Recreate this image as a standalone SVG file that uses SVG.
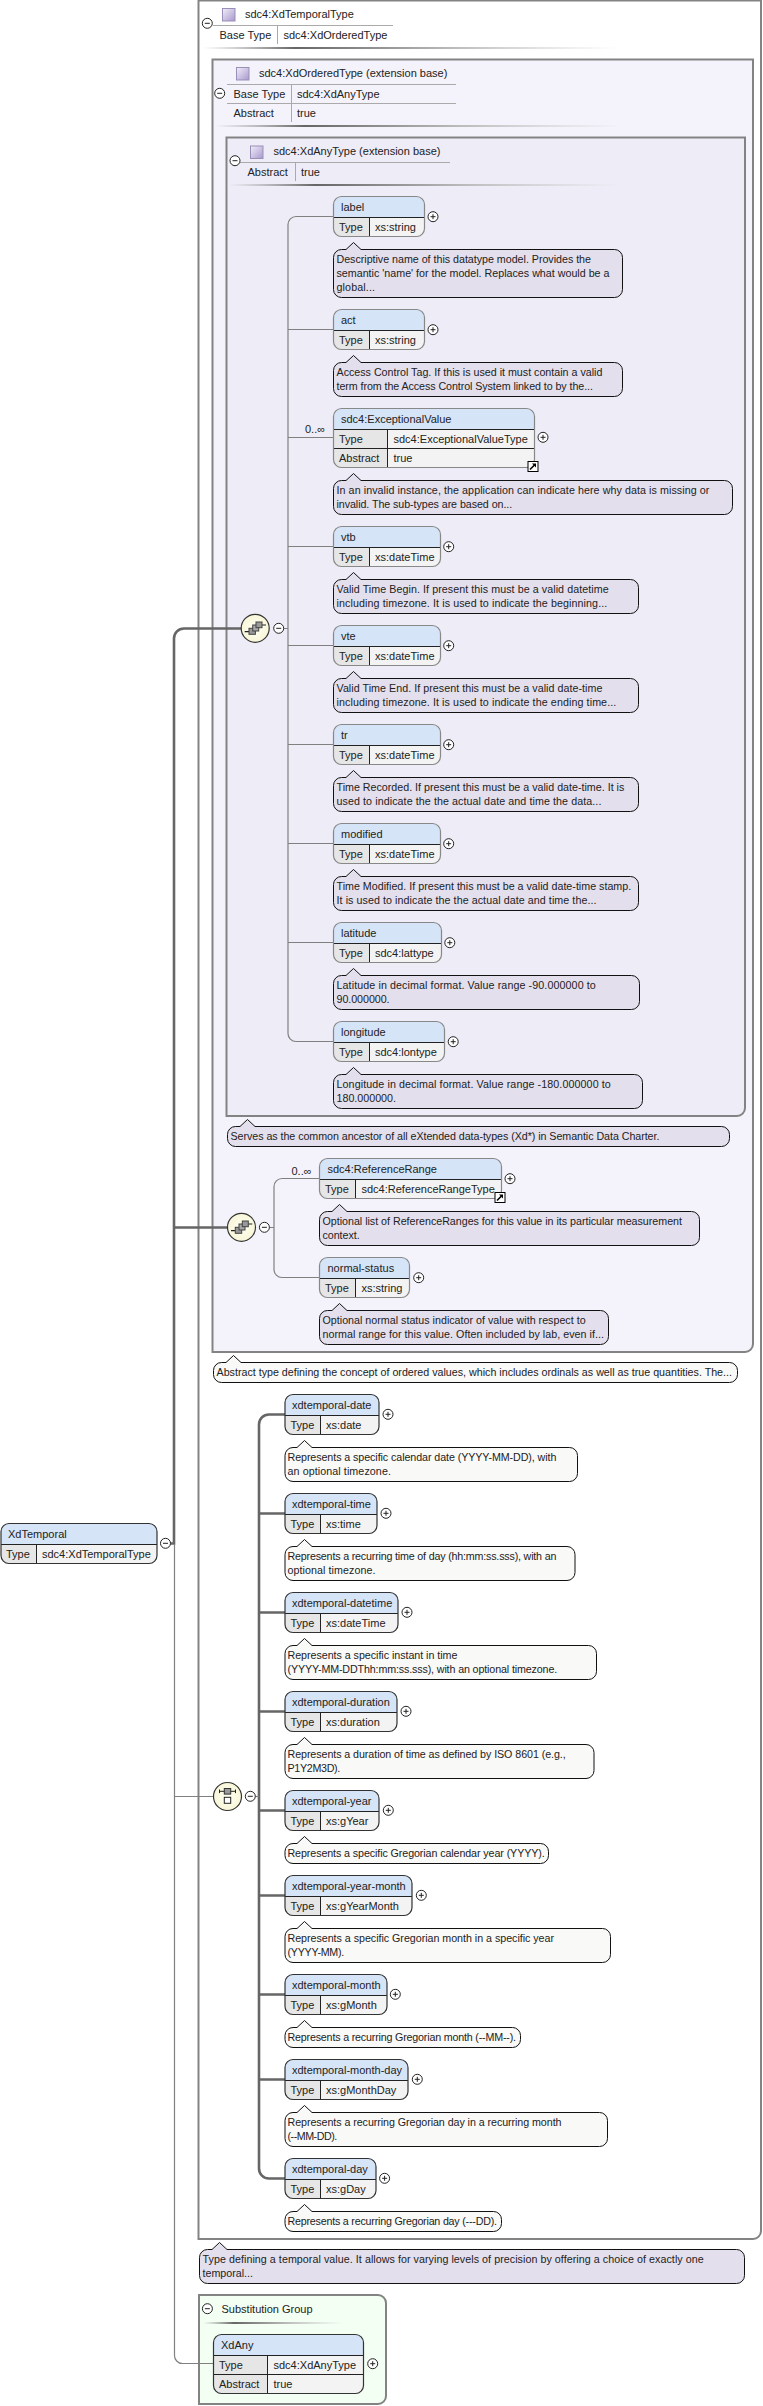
<svg xmlns="http://www.w3.org/2000/svg" width="763" height="2406" viewBox="0 0 763 2406">
<style>
text{font-family:"Liberation Sans",Arial,sans-serif;font-size:11px;fill:#222}
.d{font-size:10.7px;fill:#222}
.fr{stroke:#838383;stroke-width:2}
.c{fill:none;stroke:#808080;stroke-width:1.2}
.ct{fill:none;stroke:#666;stroke-width:2.6}
.bg{fill:#f3f3f3}.hd{fill:#d6e4f7}.ty{fill:#e6e6e6}
.ln{fill:none;stroke:#222;stroke-width:1}
.ot{fill:none;stroke:#888;stroke-width:1.2}
.otb{fill:none;stroke:#333;stroke-width:1.2}
.dl{fill:#e4dfed;stroke:#111;stroke-width:1}
.dw{fill:#f9f9f8;stroke:#111;stroke-width:1}
.tl{fill:none;stroke:#aaa;stroke-width:1}
</style>
<defs>
<linearGradient id="sh"><stop offset="0" stop-color="#888" stop-opacity="0"/><stop offset=".22" stop-color="#666"/><stop offset=".6" stop-color="#bbb"/><stop offset="1" stop-color="#ccc" stop-opacity="0"/></linearGradient>
<linearGradient id="ic" x1="0" y1="0" x2="1" y2="1"><stop offset="0" stop-color="#f2eefa"/><stop offset="1" stop-color="#a898cc"/></linearGradient>
<radialGradient id="cg"><stop offset="0" stop-color="#fffff2"/><stop offset="1" stop-color="#f8f6d8"/></radialGradient>
<g id="plus"><circle r="5" fill="#fff" stroke="#222"/><path d="M-2.5 0H2.5M0-2.5V2.5" stroke="#222"/></g>
<g id="minus"><circle r="5" fill="#fff" stroke="#222"/><path d="M-2.5 0H2.5" stroke="#222"/></g>
<g id="sq"><rect x="-6" y="-6" width="12.5" height="12.5" fill="url(#ic)" stroke="#9a8fb8"/></g>
<g id="seq"><circle r="14" fill="url(#cg)" stroke="#333" stroke-width="1.2"/><path d="M-10.5 3.4H-6M6.8-3.3H10.8" stroke="#222" stroke-width="1.2"/><rect x="-6.2" y="0" width="6.4" height="6" fill="#999" stroke="#444"/><rect x="-2.5" y="-3.3" width="6" height="6" fill="#a8a8a8" stroke="#444"/><rect x=".8" y="-6.3" width="6" height="5.7" fill="#999" stroke="#444"/></g>
<g id="cho"><circle r="14" fill="url(#cg)" stroke="#333" stroke-width="1.2"/><path d="M-8-5.2H8M-8-7V-3.4M8-7V-3.4" stroke="#222"/><rect x="-3.2" y="-8" width="6.4" height="5.6" fill="#999" stroke="#333"/><rect x="-3.2" y=".8" width="6.4" height="6" fill="#fff" stroke="#222"/></g>
<g id="lk"><rect x=".5" y=".5" width="10" height="10" fill="#fff" stroke="#000"/><path d="M2.5 8.5L7 4" stroke="#000" stroke-width="1.6"/><path d="M4.5 2.5H8.5V6.5Z" fill="#000"/></g>
</defs>

<g id="frames">
<path class="fr" fill="#fff" d="M198.5 .5H761V2231a8 8 0 0 1-8 8H198.5Z"/>
<g id="frame-ordered"><path class="fr" fill="#f4f2fa" d="M212.5 59.5H753V1344a8 8 0 0 1-8 8H212.5Z"/></g>
<g id="frame-any"><path class="fr" fill="#eeecf6" d="M226.5 137.5H745V1108a8 8 0 0 1-8 8H226.5Z"/></g>
<path class="fr" fill="#f3fff3" d="M199 2295H378a8 8 0 0 1 8 8V2396a8 8 0 0 1-8 8H199Z"/>
</g>

<g id="frame-titles">
<use href="#sq" x="228.5" y="14.5"/><text x="245" y="18">sdc4:XdTemporalType</text>
<path class="tl" d="M213 25.5H393M277.5 26V44"/>
<use href="#minus" x="207.3" y="23.3"/>
<text x="219.5" y="39">Base Type</text><text x="283.5" y="39">sdc4:XdOrderedType</text>
<rect x="203" y="47" width="417" height="2" fill="url(#sh)"/>

<use href="#sq" x="242.5" y="73.5"/><text x="259" y="77">sdc4:XdOrderedType (extension base)</text>
<path class="tl" d="M227 84.5H456M227 103.5H456M291.5 85V122"/>
<use href="#minus" x="219.7" y="93.3"/>
<text x="233.5" y="98">Base Type</text><text x="297" y="98">sdc4:XdAnyType</text>
<text x="233.5" y="117">Abstract</text><text x="297" y="117">true</text>
<rect x="215" y="125" width="407" height="2" fill="url(#sh)"/>

<use href="#sq" x="256.5" y="152"/><text x="273.5" y="155">sdc4:XdAnyType (extension base)</text>
<path class="tl" d="M240 162.5H450M295.5 163V181"/>
<use href="#minus" x="235" y="160.7"/>
<text x="247.5" y="176">Abstract</text><text x="301" y="176">true</text>
<rect x="229" y="184" width="391" height="2" fill="url(#sh)"/>

<text x="221.5" y="2313">Substitution Group</text>
<use href="#minus" x="207.4" y="2308.7"/>
<rect x="203" y="2322" width="140" height="2" fill="url(#sh)"/>
</g>

<g id="connectors">
<path class="c" d="M333.5 216.5H296a8 8 0 0 0-8 8V1033.5a8 8 0 0 0 8 8H333.5"/>
<path class="c" d="M288 329.5H333.5M288 437.5H333.5M288 546.5H333.5M288 645.5H333.5M288 744.5H333.5M288 843.5H333.5M288 942.5H333.5M283.7 628.5H288"/>
<path class="c" d="M319.5 1178.5H282a8 8 0 0 0-8 8V1269.5a8 8 0 0 0 8 8H319.5M269.4 1227.5H274"/>
<path class="ct" d="M241 628.5H184a10 10 0 0 0-10 10V1543.5H170.5M174 1227.5H227"/>
<path class="c" d="M174.5 1544V2355a8 8 0 0 0 8 8.5H213.5M174.5 1796.5H213.5"/>
<path class="ct" d="M285 1414.5H269a10 10 0 0 0-10 10V2168.5a10 10 0 0 0 10 10H285"/>
<path class="ct" stroke-width="2" d="M259 1513.5H285M259 1612.5H285M259 1711.5H285M259 1810.5H285M259 1895.5H285M259 1994.5H285M259 2079.5H285"/>
<path class="c" d="M255.3 1796.5H259"/>
</g>

<g id="compositors">
<use href="#seq" x="255.2" y="628.3"/><use href="#minus" x="278.7" y="628.3"/>
<use href="#seq" x="241.5" y="1227.3"/><use href="#minus" x="264.4" y="1227.3"/>
<use href="#cho" x="227.5" y="1796.5"/><use href="#minus" x="250.3" y="1796.3"/>
</g>

<g id="n-XdTemporal"><rect class="bg" x="1" y="1523.5" width="156" height="40" rx="8"/><path class="hd" d="M1 1544.5V1531.5a8 8 0 0 1 8-8H149a8 8 0 0 1 8 8V1544.5Z"/><path class="ty" d="M1 1544.5H36.5V1563.5H9a8 8 0 0 1-8-8Z"/><path class="ln" d="M1 1544.5H157M36.5 1544.5V1563.5"/><rect class="otb" x="1" y="1523.5" width="156" height="40" rx="8"/>
<text x="8" y="1538">XdTemporal</text><text x="6" y="1558">Type</text><text x="42" y="1558">sdc4:XdTemporalType</text><use href="#minus" x="165.5" y="1543.3"/></g>

<g id="n-label"><rect class="bg" x="333.5" y="196.5" width="91" height="40" rx="8"/><path class="hd" d="M333.5 217.5V204.5a8 8 0 0 1 8-8H416.5a8 8 0 0 1 8 8V217.5Z"/><path class="ty" d="M333.5 217.5H369.5V236.5H341.5a8 8 0 0 1-8-8Z"/><path class="ln" d="M333.5 217.5H424.5M369.5 217.5V236.5"/><rect class="ot" x="333.5" y="196.5" width="91" height="40" rx="8"/>
<text x="341" y="211">label</text><text x="339" y="231">Type</text><text x="375" y="231">xs:string</text><use href="#plus" x="433" y="216.7"/>
<path class="dl" d="M341.5 249.5H346L353.5 242.5L361 249.5H614.5a8 8 0 0 1 8 8V289.5a8 8 0 0 1-8 8H341.5a8 8 0 0 1-8-8V257.5a8 8 0 0 1 8-8Z"/>
<text class="d" x="336.5" y="263" textLength="254.5">Descriptive name of this datatype model. Provides the</text><text class="d" x="336.5" y="277" textLength="273">semantic 'name' for the model. Replaces what would be a</text><text class="d" x="336.5" y="291" textLength="38.5">global...</text></g>

<g id="n-act"><rect class="bg" x="333.5" y="309.5" width="91" height="40" rx="8"/><path class="hd" d="M333.5 330.5V317.5a8 8 0 0 1 8-8H416.5a8 8 0 0 1 8 8V330.5Z"/><path class="ty" d="M333.5 330.5H369.5V349.5H341.5a8 8 0 0 1-8-8Z"/><path class="ln" d="M333.5 330.5H424.5M369.5 330.5V349.5"/><rect class="ot" x="333.5" y="309.5" width="91" height="40" rx="8"/>
<text x="341" y="324">act</text><text x="339" y="344">Type</text><text x="375" y="344">xs:string</text><use href="#plus" x="433" y="329.7"/>
<path class="dl" d="M341.5 362.5H346L353.5 355.5L361 362.5H614.5a8 8 0 0 1 8 8V388.5a8 8 0 0 1-8 8H341.5a8 8 0 0 1-8-8V370.5a8 8 0 0 1 8-8Z"/>
<text class="d" x="336.5" y="376" textLength="265.9">Access Control Tag. If this is used it must contain a valid</text><text class="d" x="336.5" y="390" textLength="256.5">term from the Access Control System linked to by the...</text></g>

<g id="n-ExceptionalValue"><text x="305" y="433">0..∞</text><rect class="bg" x="333.5" y="408.5" width="201" height="59" rx="8"/><path class="hd" d="M333.5 429.5V416.5a8 8 0 0 1 8-8H526.5a8 8 0 0 1 8 8V429.5Z"/><path class="ty" d="M333.5 429.5H387.5V467.5H341.5a8 8 0 0 1-8-8Z"/><path class="ln" d="M333.5 429.5H534.5M333.5 448.5H534.5M387.5 429.5V467.5"/><rect class="ot" x="333.5" y="408.5" width="201" height="59" rx="8"/>
<text x="341" y="423">sdc4:ExceptionalValue</text><text x="339" y="443">Type</text><text x="393.5" y="443">sdc4:ExceptionalValueType</text><text x="339" y="462">Abstract</text><text x="393.5" y="462">true</text><use href="#plus" x="543" y="437.3"/><use href="#lk" x="527.5" y="461"/>
<path class="dl" d="M341.5 480.5H346L353.5 473.5L361 480.5H724.5a8 8 0 0 1 8 8V506.5a8 8 0 0 1-8 8H341.5a8 8 0 0 1-8-8V488.5a8 8 0 0 1 8-8Z"/>
<text class="d" x="336.5" y="494" textLength="372.8">In an invalid instance, the application can indicate here why data is missing or</text><text class="d" x="336.5" y="508" textLength="175.7">invalid. The sub-types are based on...</text></g>

<g id="n-vtb"><rect class="bg" x="333.5" y="526.5" width="107" height="40" rx="8"/><path class="hd" d="M333.5 547.5V534.5a8 8 0 0 1 8-8H432.5a8 8 0 0 1 8 8V547.5Z"/><path class="ty" d="M333.5 547.5H369.5V566.5H341.5a8 8 0 0 1-8-8Z"/><path class="ln" d="M333.5 547.5H440.5M369.5 547.5V566.5"/><rect class="ot" x="333.5" y="526.5" width="107" height="40" rx="8"/>
<text x="341" y="541">vtb</text><text x="339" y="561">Type</text><text x="375" y="561">xs:dateTime</text><use href="#plus" x="448.7" y="546.7"/>
<path class="dl" d="M341.5 579.5H346L353.5 572.5L361 579.5H630.5a8 8 0 0 1 8 8V605.5a8 8 0 0 1-8 8H341.5a8 8 0 0 1-8-8V587.5a8 8 0 0 1 8-8Z"/>
<text class="d" x="336.5" y="593" textLength="272.1">Valid Time Begin. If present this must be a valid datetime</text><text class="d" x="336.5" y="607" textLength="270.8">including timezone. It is used to indicate the beginning...</text></g>

<g id="n-vte"><rect class="bg" x="333.5" y="625.5" width="107" height="40" rx="8"/><path class="hd" d="M333.5 646.5V633.5a8 8 0 0 1 8-8H432.5a8 8 0 0 1 8 8V646.5Z"/><path class="ty" d="M333.5 646.5H369.5V665.5H341.5a8 8 0 0 1-8-8Z"/><path class="ln" d="M333.5 646.5H440.5M369.5 646.5V665.5"/><rect class="ot" x="333.5" y="625.5" width="107" height="40" rx="8"/>
<text x="341" y="640">vte</text><text x="339" y="660">Type</text><text x="375" y="660">xs:dateTime</text><use href="#plus" x="448.7" y="645.7"/>
<path class="dl" d="M341.5 678.5H346L353.5 671.5L361 678.5H630.5a8 8 0 0 1 8 8V704.5a8 8 0 0 1-8 8H341.5a8 8 0 0 1-8-8V686.5a8 8 0 0 1 8-8Z"/>
<text class="d" x="336.5" y="692" textLength="265.9">Valid Time End. If present this must be a valid date-time</text><text class="d" x="336.5" y="706" textLength="279.8">including timezone. It is used to indicate the ending time...</text></g>

<g id="n-tr"><rect class="bg" x="333.5" y="724.5" width="107" height="40" rx="8"/><path class="hd" d="M333.5 745.5V732.5a8 8 0 0 1 8-8H432.5a8 8 0 0 1 8 8V745.5Z"/><path class="ty" d="M333.5 745.5H369.5V764.5H341.5a8 8 0 0 1-8-8Z"/><path class="ln" d="M333.5 745.5H440.5M369.5 745.5V764.5"/><rect class="ot" x="333.5" y="724.5" width="107" height="40" rx="8"/>
<text x="341" y="739">tr</text><text x="339" y="759">Type</text><text x="375" y="759">xs:dateTime</text><use href="#plus" x="448.7" y="744.7"/>
<path class="dl" d="M341.5 777.5H346L353.5 770.5L361 777.5H630.5a8 8 0 0 1 8 8V803.5a8 8 0 0 1-8 8H341.5a8 8 0 0 1-8-8V785.5a8 8 0 0 1 8-8Z"/>
<text class="d" x="336.5" y="791" textLength="287.8">Time Recorded. If present this must be a valid date-time. It is</text><text class="d" x="336.5" y="805" textLength="264.9">used to indicate the the actual date and time the data...</text></g>

<g id="n-modified"><rect class="bg" x="333.5" y="823.5" width="107" height="40" rx="8"/><path class="hd" d="M333.5 844.5V831.5a8 8 0 0 1 8-8H432.5a8 8 0 0 1 8 8V844.5Z"/><path class="ty" d="M333.5 844.5H369.5V863.5H341.5a8 8 0 0 1-8-8Z"/><path class="ln" d="M333.5 844.5H440.5M369.5 844.5V863.5"/><rect class="ot" x="333.5" y="823.5" width="107" height="40" rx="8"/>
<text x="341" y="838">modified</text><text x="339" y="858">Type</text><text x="375" y="858">xs:dateTime</text><use href="#plus" x="448.7" y="843.7"/>
<path class="dl" d="M341.5 876.5H346L353.5 869.5L361 876.5H630.5a8 8 0 0 1 8 8V902.5a8 8 0 0 1-8 8H341.5a8 8 0 0 1-8-8V884.5a8 8 0 0 1 8-8Z"/>
<text class="d" x="336.5" y="890" textLength="294.7">Time Modified. If present this must be a valid date-time stamp.</text><text class="d" x="336.5" y="904" textLength="260">It is used to indicate the the actual date and time the...</text></g>

<g id="n-latitude"><rect class="bg" x="333.5" y="922.5" width="108" height="40" rx="8"/><path class="hd" d="M333.5 943.5V930.5a8 8 0 0 1 8-8H433.5a8 8 0 0 1 8 8V943.5Z"/><path class="ty" d="M333.5 943.5H369.5V962.5H341.5a8 8 0 0 1-8-8Z"/><path class="ln" d="M333.5 943.5H441.5M369.5 943.5V962.5"/><rect class="ot" x="333.5" y="922.5" width="108" height="40" rx="8"/>
<text x="341" y="937">latitude</text><text x="339" y="957">Type</text><text x="375" y="957">sdc4:lattype</text><use href="#plus" x="449.8" y="942.7"/>
<path class="dl" d="M341.5 975.5H346L353.5 968.5L361 975.5H631.5a8 8 0 0 1 8 8V1001.5a8 8 0 0 1-8 8H341.5a8 8 0 0 1-8-8V983.5a8 8 0 0 1 8-8Z"/>
<text class="d" x="336.5" y="989" textLength="259.3">Latitude in decimal format. Value range -90.000000 to</text><text class="d" x="336.5" y="1003" textLength="53.1">90.000000.</text></g>

<g id="n-longitude"><rect class="bg" x="333.5" y="1021.5" width="111" height="40" rx="8"/><path class="hd" d="M333.5 1042.5V1029.5a8 8 0 0 1 8-8H436.5a8 8 0 0 1 8 8V1042.5Z"/><path class="ty" d="M333.5 1042.5H369.5V1061.5H341.5a8 8 0 0 1-8-8Z"/><path class="ln" d="M333.5 1042.5H444.5M369.5 1042.5V1061.5"/><rect class="ot" x="333.5" y="1021.5" width="111" height="40" rx="8"/>
<text x="341" y="1036">longitude</text><text x="339" y="1056">Type</text><text x="375" y="1056">sdc4:lontype</text><use href="#plus" x="453.2" y="1041.7"/>
<path class="dl" d="M341.5 1074.5H346L353.5 1067.5L361 1074.5H634.5a8 8 0 0 1 8 8V1100.5a8 8 0 0 1-8 8H341.5a8 8 0 0 1-8-8V1082.5a8 8 0 0 1 8-8Z"/>
<text class="d" x="336.5" y="1088" textLength="274.3">Longitude in decimal format. Value range -180.000000 to</text><text class="d" x="336.5" y="1102" textLength="59.5">180.000000.</text></g>

<g id="doc-any"><path class="dl" d="M235.5 1126.5H240L247.5 1119.5L255 1126.5H721.5a8 8 0 0 1 8 8V1138.5a8 8 0 0 1-8 8H235.5a8 8 0 0 1-8-8V1134.5a8 8 0 0 1 8-8Z"/>
<text class="d" x="230.5" y="1140" textLength="428.9">Serves as the common ancestor of all eXtended data-types (Xd*) in Semantic Data Charter.</text></g>

<g id="n-ReferenceRange"><text x="291.5" y="1175">0..∞</text><rect class="bg" x="319.5" y="1158.5" width="182" height="40" rx="8"/><path class="hd" d="M319.5 1179.5V1166.5a8 8 0 0 1 8-8H493.5a8 8 0 0 1 8 8V1179.5Z"/><path class="ty" d="M319.5 1179.5H355.5V1198.5H327.5a8 8 0 0 1-8-8Z"/><path class="ln" d="M319.5 1179.5H501.5M355.5 1179.5V1198.5"/><rect class="ot" x="319.5" y="1158.5" width="182" height="40" rx="8"/>
<text x="327.5" y="1173">sdc4:ReferenceRange</text><text x="325" y="1193">Type</text><text x="361.5" y="1193">sdc4:ReferenceRangeType</text><use href="#plus" x="510" y="1178.7"/><use href="#lk" x="494.5" y="1192"/>
<path class="dl" d="M327.5 1211.5H332L339.5 1204.5L347 1211.5H691.5a8 8 0 0 1 8 8V1237.5a8 8 0 0 1-8 8H327.5a8 8 0 0 1-8-8V1219.5a8 8 0 0 1 8-8Z"/>
<text class="d" x="322.5" y="1225" textLength="359.5">Optional list of ReferenceRanges for this value in its particular measurement</text><text class="d" x="322.5" y="1239" textLength="37.2">context.</text></g>

<g id="n-normal-status"><rect class="bg" x="319.5" y="1257.5" width="90" height="40" rx="8"/><path class="hd" d="M319.5 1278.5V1265.5a8 8 0 0 1 8-8H401.5a8 8 0 0 1 8 8V1278.5Z"/><path class="ty" d="M319.5 1278.5H355.5V1297.5H327.5a8 8 0 0 1-8-8Z"/><path class="ln" d="M319.5 1278.5H409.5M355.5 1278.5V1297.5"/><rect class="ot" x="319.5" y="1257.5" width="90" height="40" rx="8"/>
<text x="327.5" y="1272">normal-status</text><text x="325" y="1292">Type</text><text x="361.5" y="1292">xs:string</text><use href="#plus" x="418.7" y="1277.7"/>
<path class="dl" d="M327.5 1310.5H332L339.5 1303.5L347 1310.5H600.5a8 8 0 0 1 8 8V1336.5a8 8 0 0 1-8 8H327.5a8 8 0 0 1-8-8V1318.5a8 8 0 0 1 8-8Z"/>
<text class="d" x="322.5" y="1324" textLength="263.1">Optional normal status indicator of value with respect to</text><text class="d" x="322.5" y="1338" textLength="281.5">normal range for this value. Often included by lab, even if...</text></g>

<g id="doc-ordered"><path class="dw" d="M221.5 1362.5H226L233.5 1355.5L241 1362.5H729.5a8 8 0 0 1 8 8V1374.5a8 8 0 0 1-8 8H221.5a8 8 0 0 1-8-8V1370.5a8 8 0 0 1 8-8Z"/>
<text class="d" x="216.5" y="1376" textLength="515.5">Abstract type defining the concept of ordered values, which includes ordinals as well as true quantities. The...</text></g>

<g id="n-xdtemporal-date"><rect class="bg" x="285" y="1394.5" width="94" height="40" rx="8"/><path class="hd" d="M285 1415.5V1402.5a8 8 0 0 1 8-8H371a8 8 0 0 1 8 8V1415.5Z"/><path class="ty" d="M285 1415.5H320.5V1434.5H293a8 8 0 0 1-8-8Z"/><path class="ln" d="M285 1415.5H379M320.5 1415.5V1434.5"/><rect class="otb" x="285" y="1394.5" width="94" height="40" rx="8"/>
<text x="292" y="1409">xdtemporal-date</text><text x="290.5" y="1429">Type</text><text x="326" y="1429">xs:date</text><use href="#plus" x="388" y="1414.3"/>
<path class="dw" d="M293 1447.5H297L304.5 1440.5L312 1447.5H569.5a8 8 0 0 1 8 8V1473.5a8 8 0 0 1-8 8H293a8 8 0 0 1-8-8V1455.5a8 8 0 0 1 8-8Z"/>
<text class="d" x="287.5" y="1461" textLength="268.9">Represents a specific calendar date (YYYY-MM-DD), with</text><text class="d" x="287.5" y="1475" textLength="103.4">an optional timezone.</text></g>

<g id="n-xdtemporal-time"><rect class="bg" x="285" y="1493.5" width="92" height="40" rx="8"/><path class="hd" d="M285 1514.5V1501.5a8 8 0 0 1 8-8H369a8 8 0 0 1 8 8V1514.5Z"/><path class="ty" d="M285 1514.5H320.5V1533.5H293a8 8 0 0 1-8-8Z"/><path class="ln" d="M285 1514.5H377M320.5 1514.5V1533.5"/><rect class="otb" x="285" y="1493.5" width="92" height="40" rx="8"/>
<text x="292" y="1508">xdtemporal-time</text><text x="290.5" y="1528">Type</text><text x="326" y="1528">xs:time</text><use href="#plus" x="386" y="1513.3"/>
<path class="dw" d="M293 1546.5H297L304.5 1539.5L312 1546.5H567a8 8 0 0 1 8 8V1572.5a8 8 0 0 1-8 8H293a8 8 0 0 1-8-8V1554.5a8 8 0 0 1 8-8Z"/>
<text class="d" x="287.5" y="1560" textLength="268.9">Represents a recurring time of day (hh:mm:ss.sss), with an</text><text class="d" x="287.5" y="1574" textLength="87.9">optional timezone.</text></g>

<g id="n-xdtemporal-datetime"><rect class="bg" x="285" y="1592.5" width="113" height="40" rx="8"/><path class="hd" d="M285 1613.5V1600.5a8 8 0 0 1 8-8H390a8 8 0 0 1 8 8V1613.5Z"/><path class="ty" d="M285 1613.5H320.5V1632.5H293a8 8 0 0 1-8-8Z"/><path class="ln" d="M285 1613.5H398M320.5 1613.5V1632.5"/><rect class="otb" x="285" y="1592.5" width="113" height="40" rx="8"/>
<text x="292" y="1607">xdtemporal-datetime</text><text x="290.5" y="1627">Type</text><text x="326" y="1627">xs:dateTime</text><use href="#plus" x="407" y="1612.3"/>
<path class="dw" d="M293 1645.5H297L304.5 1638.5L312 1645.5H588.5a8 8 0 0 1 8 8V1671.5a8 8 0 0 1-8 8H293a8 8 0 0 1-8-8V1653.5a8 8 0 0 1 8-8Z"/>
<text class="d" x="287.5" y="1659" textLength="169.9">Represents a specific instant in time</text><text class="d" x="287.5" y="1673" textLength="269.7">(YYYY-MM-DDThh:mm:ss.sss), with an optional timezone.</text></g>

<g id="n-xdtemporal-duration"><rect class="bg" x="285" y="1691.5" width="112" height="40" rx="8"/><path class="hd" d="M285 1712.5V1699.5a8 8 0 0 1 8-8H389a8 8 0 0 1 8 8V1712.5Z"/><path class="ty" d="M285 1712.5H320.5V1731.5H293a8 8 0 0 1-8-8Z"/><path class="ln" d="M285 1712.5H397M320.5 1712.5V1731.5"/><rect class="otb" x="285" y="1691.5" width="112" height="40" rx="8"/>
<text x="292" y="1706">xdtemporal-duration</text><text x="290.5" y="1726">Type</text><text x="326" y="1726">xs:duration</text><use href="#plus" x="406" y="1711.3"/>
<path class="dw" d="M293 1744.5H297L304.5 1737.5L312 1744.5H586a8 8 0 0 1 8 8V1770.5a8 8 0 0 1-8 8H293a8 8 0 0 1-8-8V1752.5a8 8 0 0 1 8-8Z"/>
<text class="d" x="287.5" y="1758" textLength="278.2">Represents a duration of time as defined by ISO 8601 (e.g.,</text><text class="d" x="287.5" y="1772" textLength="52.8">P1Y2M3D).</text></g>

<g id="n-xdtemporal-year"><rect class="bg" x="285" y="1790.5" width="94" height="40" rx="8"/><path class="hd" d="M285 1811.5V1798.5a8 8 0 0 1 8-8H371a8 8 0 0 1 8 8V1811.5Z"/><path class="ty" d="M285 1811.5H320.5V1830.5H293a8 8 0 0 1-8-8Z"/><path class="ln" d="M285 1811.5H379M320.5 1811.5V1830.5"/><rect class="otb" x="285" y="1790.5" width="94" height="40" rx="8"/>
<text x="292" y="1805">xdtemporal-year</text><text x="290.5" y="1825">Type</text><text x="326" y="1825">xs:gYear</text><use href="#plus" x="388.3" y="1810.3"/>
<path class="dw" d="M293 1843.5H297L304.5 1836.5L312 1843.5H540.5a8 8 0 0 1 8 8V1855.5a8 8 0 0 1-8 8H293a8 8 0 0 1-8-8V1851.5a8 8 0 0 1 8-8Z"/>
<text class="d" x="287.5" y="1857" textLength="257.2">Represents a specific Gregorian calendar year (YYYY).</text></g>

<g id="n-xdtemporal-year-month"><rect class="bg" x="285" y="1875.5" width="127" height="40" rx="8"/><path class="hd" d="M285 1896.5V1883.5a8 8 0 0 1 8-8H404a8 8 0 0 1 8 8V1896.5Z"/><path class="ty" d="M285 1896.5H320.5V1915.5H293a8 8 0 0 1-8-8Z"/><path class="ln" d="M285 1896.5H412M320.5 1896.5V1915.5"/><rect class="otb" x="285" y="1875.5" width="127" height="40" rx="8"/>
<text x="292" y="1890">xdtemporal-year-month</text><text x="290.5" y="1910">Type</text><text x="326" y="1910">xs:gYearMonth</text><use href="#plus" x="421.3" y="1895.3"/>
<path class="dw" d="M293 1928.5H297L304.5 1921.5L312 1928.5H602.5a8 8 0 0 1 8 8V1954.5a8 8 0 0 1-8 8H293a8 8 0 0 1-8-8V1936.5a8 8 0 0 1 8-8Z"/>
<text class="d" x="287.5" y="1942" textLength="266.5">Represents a specific Gregorian month in a specific year</text><text class="d" x="287.5" y="1956" textLength="56.8">(YYYY-MM).</text></g>

<g id="n-xdtemporal-month"><rect class="bg" x="285" y="1974.5" width="102" height="40" rx="8"/><path class="hd" d="M285 1995.5V1982.5a8 8 0 0 1 8-8H379a8 8 0 0 1 8 8V1995.5Z"/><path class="ty" d="M285 1995.5H320.5V2014.5H293a8 8 0 0 1-8-8Z"/><path class="ln" d="M285 1995.5H387M320.5 1995.5V2014.5"/><rect class="otb" x="285" y="1974.5" width="102" height="40" rx="8"/>
<text x="292" y="1989">xdtemporal-month</text><text x="290.5" y="2009">Type</text><text x="326" y="2009">xs:gMonth</text><use href="#plus" x="395.3" y="1994.3"/>
<path class="dw" d="M293 2027.5H297L304.5 2020.5L312 2027.5H512.5a8 8 0 0 1 8 8V2039.5a8 8 0 0 1-8 8H293a8 8 0 0 1-8-8V2035.5a8 8 0 0 1 8-8Z"/>
<text class="d" x="287.5" y="2041" textLength="228.5">Represents a recurring Gregorian month (--MM--).</text></g>

<g id="n-xdtemporal-month-day"><rect class="bg" x="285" y="2059.5" width="123" height="40" rx="8"/><path class="hd" d="M285 2080.5V2067.5a8 8 0 0 1 8-8H400a8 8 0 0 1 8 8V2080.5Z"/><path class="ty" d="M285 2080.5H320.5V2099.5H293a8 8 0 0 1-8-8Z"/><path class="ln" d="M285 2080.5H408M320.5 2080.5V2099.5"/><rect class="otb" x="285" y="2059.5" width="123" height="40" rx="8"/>
<text x="292" y="2074">xdtemporal-month-day</text><text x="290.5" y="2094">Type</text><text x="326" y="2094">xs:gMonthDay</text><use href="#plus" x="417.3" y="2079.3"/>
<path class="dw" d="M293 2112.5H297L304.5 2105.5L312 2112.5H599.5a8 8 0 0 1 8 8V2138.5a8 8 0 0 1-8 8H293a8 8 0 0 1-8-8V2120.5a8 8 0 0 1 8-8Z"/>
<text class="d" x="287.5" y="2126" textLength="274">Represents a recurring Gregorian day in a recurring month</text><text class="d" x="287.5" y="2140" textLength="49.7">(--MM-DD).</text></g>

<g id="n-xdtemporal-day"><rect class="bg" x="285" y="2158.5" width="91" height="40" rx="8"/><path class="hd" d="M285 2179.5V2166.5a8 8 0 0 1 8-8H368a8 8 0 0 1 8 8V2179.5Z"/><path class="ty" d="M285 2179.5H320.5V2198.5H293a8 8 0 0 1-8-8Z"/><path class="ln" d="M285 2179.5H376M320.5 2179.5V2198.5"/><rect class="otb" x="285" y="2158.5" width="91" height="40" rx="8"/>
<text x="292" y="2173">xdtemporal-day</text><text x="290.5" y="2193">Type</text><text x="326" y="2193">xs:gDay</text><use href="#plus" x="384.6" y="2178.3"/>
<path class="dw" d="M293 2211.5H297L304.5 2204.5L312 2211.5H493.5a8 8 0 0 1 8 8V2223.5a8 8 0 0 1-8 8H293a8 8 0 0 1-8-8V2219.5a8 8 0 0 1 8-8Z"/>
<text class="d" x="287.5" y="2225" textLength="209.5">Represents a recurring Gregorian day (---DD).</text></g>

<g id="doc-temporal"><path class="dl" d="M207.5 2249.5H212L219.5 2242.5L227 2249.5H736.5a8 8 0 0 1 8 8V2275.5a8 8 0 0 1-8 8H207.5a8 8 0 0 1-8-8V2257.5a8 8 0 0 1 8-8Z"/>
<text class="d" x="202.5" y="2263" textLength="501.2">Type defining a temporal value. It allows for varying levels of precision by offering a choice of exactly one</text><text class="d" x="202.5" y="2277" textLength="50.4">temporal...</text></g>

<g id="n-XdAny"><rect class="bg" x="213.5" y="2334.5" width="150" height="59" rx="8"/><path class="hd" d="M213.5 2355.5V2342.5a8 8 0 0 1 8-8H355.5a8 8 0 0 1 8 8V2355.5Z"/><path class="ty" d="M213.5 2355.5H267.5V2393.5H221.5a8 8 0 0 1-8-8Z"/><path class="ln" d="M213.5 2355.5H363.5M213.5 2374.5H363.5M267.5 2355.5V2393.5"/><rect class="otb" x="213.5" y="2334.5" width="150" height="59" rx="8"/>
<text x="221" y="2349">XdAny</text><text x="219" y="2369">Type</text><text x="273.5" y="2369">sdc4:XdAnyType</text><text x="219" y="2388">Abstract</text><text x="273.5" y="2388">true</text><use href="#plus" x="372.7" y="2363.7"/></g>
</svg>
